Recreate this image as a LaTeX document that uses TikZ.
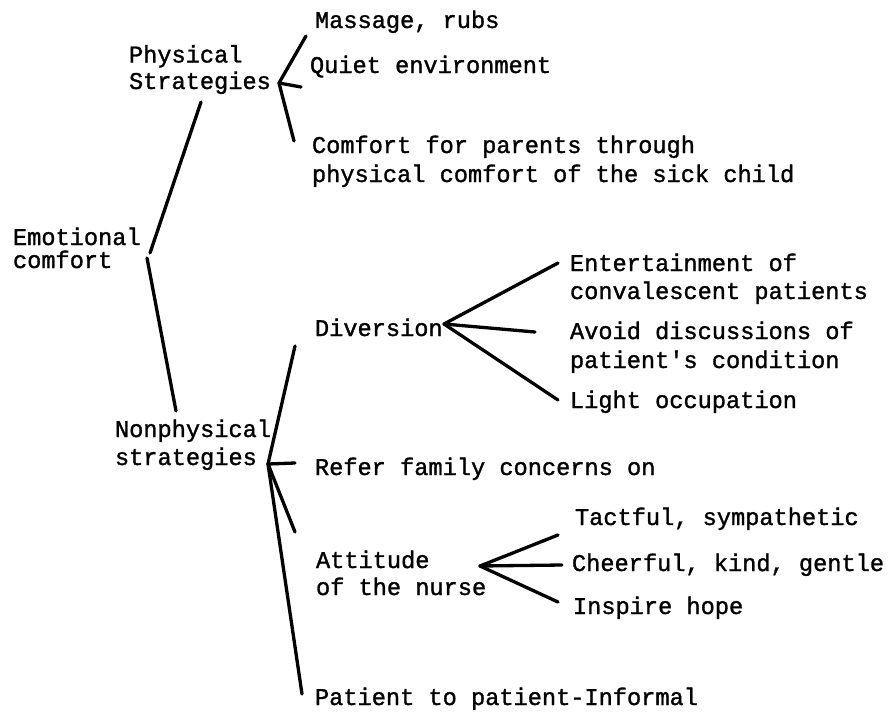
\documentclass[tikz,border=0pt]{standalone}
\usepackage{fontspec}
\newfontfamily\tw{Liberation Mono}[FakeStretch=0.985,FakeBold=1.3]
\begin{document}
\begin{tikzpicture}[x=1pt,y=-1pt,
  lbl/.style={inner sep=0pt, outer sep=0pt, anchor=base west, align=left,
              font=\tw\fontsize{24}{28}\selectfont},
  link/.style={line width=3.3pt, line cap=round}]
\useasboundingbox (0,0) rectangle (890,717);
% labels (multi-line nodes placed at the baseline of their last line)
\node[lbl] (emo) at (13,268) {Emotional\\[-5pt]comfort};
\node[lbl] (phys) at (129,89) {Physical\\[-1.5pt]Strategies};
\node[lbl] (massage) at (315,28) {Massage, rubs};
\node[lbl] (quiet) at (310,73) {Quiet environment};
\node[lbl] (comf) at (312,182) {Comfort for parents through\\[1pt]physical comfort of the sick child};
\node[lbl] (nonphys) at (115,465) {Nonphysical\\strategies};
\node[lbl] (div) at (315,336) {Diversion};
\node[lbl] (ent) at (570,299) {Entertainment of\\convalescent patients};
\node[lbl] (avoid) at (570,368) {Avoid discussions of\\[1pt]patient's condition};
\node[lbl] (light) at (570,408) {Light occupation};
\node[lbl] (refer) at (315,475) {Refer family concerns on};
\node[lbl] (att) at (316,595) {Attitude\\[-1pt]of the nurse};
\node[lbl] (tact) at (575,525) {Tactful, sympathetic};
\node[lbl] (cheer) at (572,571) {Cheerful, kind, gentle};
\node[lbl] (hope) at (573,614) {Inspire hope};
\node[lbl] (pat) at (315,705) {Patient to patient-Informal};
% connector points
\coordinate (emoA) at (150,253);
\coordinate (emoB) at (147,258);
\coordinate (physIn) at (201,102);
\coordinate (nonIn) at (176,411);
\coordinate (physV) at (279,83);
\coordinate (massIn) at (306,36);
\coordinate (quietIn) at (301,87);
\coordinate (comfIn) at (294,141);
\coordinate (nonV) at (268,464);
\coordinate (divIn) at (295,346);
\coordinate (referIn) at (295,463);
\coordinate (attIn) at (295,532);
\coordinate (patIn) at (302,694);
\coordinate (divV) at (444,324);
\coordinate (entIn) at (558,263);
\coordinate (avoidIn) at (535,332);
\coordinate (lightIn) at (558,400);
\coordinate (attV) at (480,566);
\coordinate (tactIn) at (558,535);
\coordinate (cheerIn) at (562,565);
\coordinate (hopeIn) at (558,602);
% connectors
\draw[link] (emoA) -- (physIn);
\draw[link] (emoB) -- (nonIn);
\draw[link] (physV) -- (massIn);
\draw[link] (physV) -- (quietIn);
\draw[link] (physV) -- (comfIn);
\draw[link] (nonV) -- (divIn);
\draw[link] (nonV) -- (referIn);
\draw[link] (nonV) -- (attIn);
\draw[link] (nonV) -- (patIn);
\draw[link] (divV) -- (entIn);
\draw[link] (divV) -- (avoidIn);
\draw[link] (divV) -- (lightIn);
\draw[link] (attV) -- (tactIn);
\draw[link] (attV) -- (cheerIn);
\draw[link] (attV) -- (hopeIn);
\end{tikzpicture}
\end{document}
